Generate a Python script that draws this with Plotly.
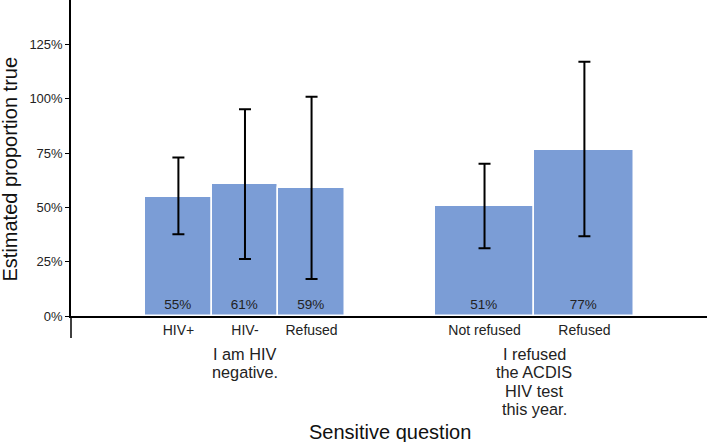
import plotly.graph_objects as go

# ---- data ----
groups = [["I am HIV", "negative."], ["I refused", "the ACDIS", "HIV test", "this year."]]
group_cats = [["HIV+", "HIV-", "Refused"], ["Not refused", "Refused"]]
group_vals = [[0.548, 0.606, 0.587], [0.507, 0.766]]
group_low = [[0.376, 0.262, 0.170], [0.312, 0.367]]
group_high = [[0.729, 0.951, 1.009], [0.701, 1.170]]
y_ticks = [0, 0.25, 0.5, 0.75, 1.0, 1.25]
y_ticklabels = ["0%", "25%", "50%", "75%", "100%", "125%"]

BAR = "#7B9DD6"
FONT = "Liberation Sans, Arial, sans-serif"
CLUSTER = 0.69
PLOT_H = 316.0
PLOT_W = 636.0
PLOT_L = 71.0

xs, ys, texts, widths, up, down, cats = [], [], [], [], [], [], []
for gi, (cl, vl, lo, hi) in enumerate(zip(group_cats, group_vals, group_low, group_high)):
    n = len(cl)
    w = CLUSTER / n
    for bi, (c, v, l, h) in enumerate(zip(cl, vl, lo, hi)):
        xs.append(gi - CLUSTER / 2 + w * (bi + 0.5))
        ys.append(v)
        widths.append(w)
        texts.append(f"{round(v * 100)}%")
        up.append(h - v)
        down.append(v - l)
        cats.append(c)

fig = go.Figure()
fig.add_trace(go.Bar(
    x=xs, y=ys, width=widths,
    marker=dict(color=BAR, line=dict(color="white", width=1.5)),
    text=texts, textposition="inside", insidetextanchor="start",
    textfont=dict(size=13.5, color="#222222", family=FONT),
    error_y=dict(type="data", array=up, arrayminus=down, visible=True,
                 color="black", thickness=2, width=6),
    showlegend=False, hoverinfo="skip",
))

LINE0, LINE_STEP = 353.5, 18.5
for gi, lines in enumerate(groups):
    for li, line in enumerate(lines):
        py = LINE0 + li * LINE_STEP
        fig.add_annotation(x=gi, xref="x", y=(PLOT_H - py) / PLOT_H, yref="paper",
                           text=line, showarrow=False, yanchor="middle",
                           xanchor="center",
                           font=dict(size=16.3, color="#222222", family=FONT))

fig.add_annotation(x=(390 - PLOT_L) / PLOT_W, xref="paper", y=(PLOT_H - 432) / PLOT_H,
                   yref="paper", text="Sensitive question", showarrow=False,
                   yanchor="middle", xanchor="center",
                   font=dict(size=20, color="#111111", family=FONT))
fig.add_annotation(x=(9 - PLOT_L) / PLOT_W, xref="paper", y=(PLOT_H - 169.5) / PLOT_H,
                   yref="paper", text="Estimated proportion true", showarrow=False,
                   textangle=-90, yanchor="middle", xanchor="center",
                   font=dict(size=20, color="#111111", family=FONT))

# y-axis line extension below zero
fig.add_shape(type="line", xref="paper", yref="paper", x0=0, x1=0, y0=-0.07, y1=0,
              line=dict(color="black", width=1.5))

fig.update_layout(
    width=709, height=442,
    margin=dict(l=71, r=2, t=0, b=126),
    paper_bgcolor="white", plot_bgcolor="white",
    font=dict(family=FONT, color="#222222"),
    bargap=0,
    xaxis=dict(range=[-0.601, 1.596], tickvals=xs, ticktext=cats,
               showline=True, linecolor="black", linewidth=1.5,
               ticks="", showgrid=False, zeroline=False,
               tickfont=dict(size=14, color="#222222", family=FONT)),
    yaxis=dict(range=[0, 1.454], tickvals=y_ticks, ticktext=y_ticklabels,
               showline=True, linecolor="black", linewidth=1.5,
               ticks="outside", ticklen=4, tickcolor="black",
               showgrid=False, zeroline=False,
               tickfont=dict(size=13, color="#222222", family=FONT)),
)

fig.write_html("out.html", config={"displayModeBar": False},
               post_script="document.body.style.margin='0';document.body.style.overflow='hidden';")
